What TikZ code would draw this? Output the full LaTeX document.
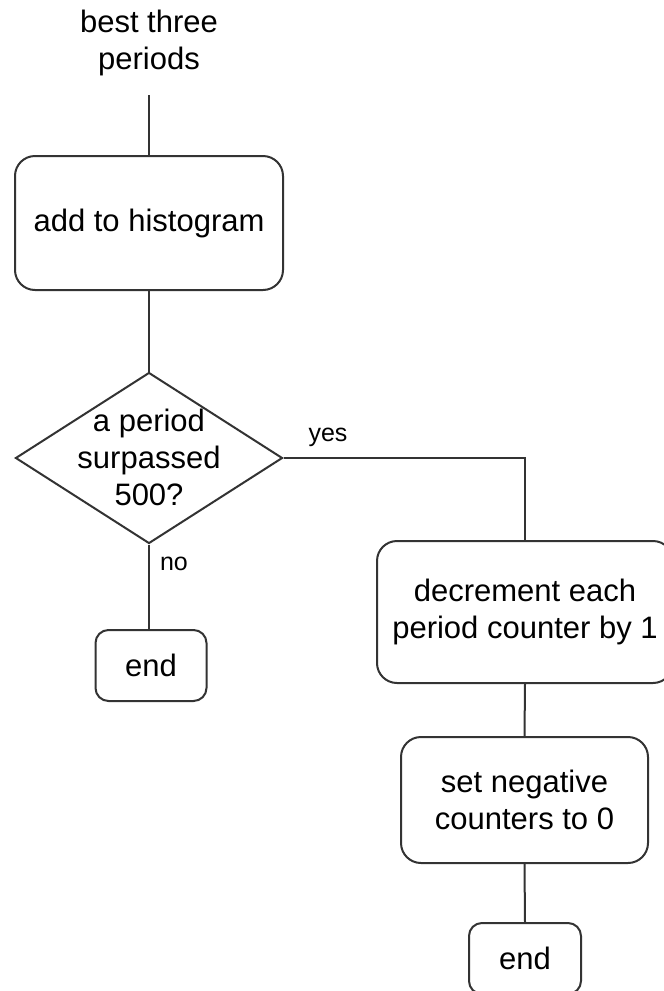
\documentclass[tikz,border=0pt]{standalone}
\usepackage{fontspec}
\setmainfont{Liberation Sans}
\usetikzlibrary{shapes.geometric}
\begin{document}
\begin{tikzpicture}[x=1pt,y=-1pt,
  every node/.style={font=\fontsize{31}{37}\selectfont, text=black},
  stepbox/.style={draw=black!80, line width=2pt, rounded corners=20pt, align=center, inner sep=0pt},
  endbox/.style={draw=black!80, line width=2pt, rounded corners=13pt, align=center, inner sep=0pt},
  decision/.style={diamond, draw=black!80, line width=2pt, inner sep=0pt},
  link/.style={draw=black!80, line width=2pt},
  edgelabel/.style={font=\fontsize{24}{28}\selectfont}]
  \useasboundingbox (0,0) rectangle (664,991);
  \begin{scope}
    \clip (0,0) rectangle (664,991);
    % input and first step
    \node[align=center] (start) at (149,43) {best three\\periods};
    \coordinate (startend) at (149,95);
    \node[stepbox, minimum width=268pt, minimum height=134pt] (hist) at (149,223) {add to histogram};
    % decision
    \node[decision, minimum width=267pt, minimum height=171pt] (q) at (149,458) {};
    \node[align=center] (qtext) at (149,457) {a period\\surpassed\\500?};
    % no branch
    \node[endbox, minimum width=111pt, minimum height=71pt] (endA) at (151,665.5) {end};
    % yes branch
    \node[stepbox, minimum width=296pt, minimum height=142pt] (decr) at (525,612) {decrement each\\period counter by 1};
    \node[stepbox, minimum width=247pt, minimum height=126pt] (setz) at (524.5,800) {set negative\\counters to 0};
    \node[endbox, minimum width=112pt, minimum height=71pt] (endB) at (525,958.5) {end};
    % connectors
    \draw[link] (startend) -- (hist.north);
    \draw[link] (hist.south) -- (q.north);
    \draw[link] (q.south) -- (q.south |- endA.north);
    \draw[link] (q.east) -| (decr.north);
    \draw[link] (decr.south) -- (setz.north);
    \draw[link] (setz.south) -- (endB.north);
    % branch labels
    \node[font=\fontsize{25}{30}\selectfont] (yes) at (328,437) {yes};
    \node[font=\fontsize{25}{30}\selectfont] (no) at (174,564) {no};
  \end{scope}
\end{tikzpicture}
\end{document}
